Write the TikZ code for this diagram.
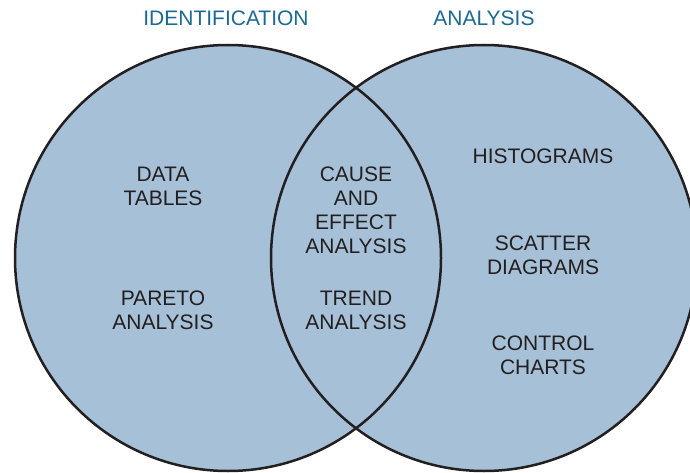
\documentclass[tikz,border=0pt]{standalone}
\usepackage{fontspec}
\setmainfont{Liberation Sans}
\usetikzlibrary{positioning}
\definecolor{vennfill}{HTML}{A6C1D7}
\definecolor{titleblue}{HTML}{1B6A96}
\definecolor{inkgray}{HTML}{231F20}

\begin{document}
\begin{tikzpicture}[x=1pt, y=-1pt,
  region/.style={circle, fill=vennfill, minimum size=426pt, inner sep=0pt},
  outline/.style={draw=inkgray, line width=2.5pt},
  label/.style={align=center, text=inkgray, font=\fontsize{21}{24}\selectfont},
  title/.style={text=titleblue, font=\fontsize{21}{24}\selectfont}
]
  \useasboundingbox (0,0) rectangle (690,473);
  \node (ident) [region] at (228,258) {};
  \node (anal) [region] at (484,258) {};
  \draw [outline] (ident.center) circle[radius=213];
  \draw [outline] (anal.center) circle[radius=213];

  \node (identtitle) [title] at (226,18) {IDENTIFICATION};
  \node (analtitle) [title] at (484,18) {ANALYSIS};

  \node (tables) [label] at (163,186) {DATA\\TABLES};
  \node (pareto) [label] at (163,310) {PARETO\\ANALYSIS};
  \node (cause) [label] at (356,210) {CAUSE\\AND\\EFFECT\\ANALYSIS};
  \node (trend) [label] at (356,310) {TREND\\ANALYSIS};
  \node (histo) [label] at (543,156) {HISTOGRAMS};
  \node (scatter) [label] at (543,255) {SCATTER\\DIAGRAMS};
  \node (control) [label] at (543,355) {CONTROL\\CHARTS};
\end{tikzpicture}
\end{document}
